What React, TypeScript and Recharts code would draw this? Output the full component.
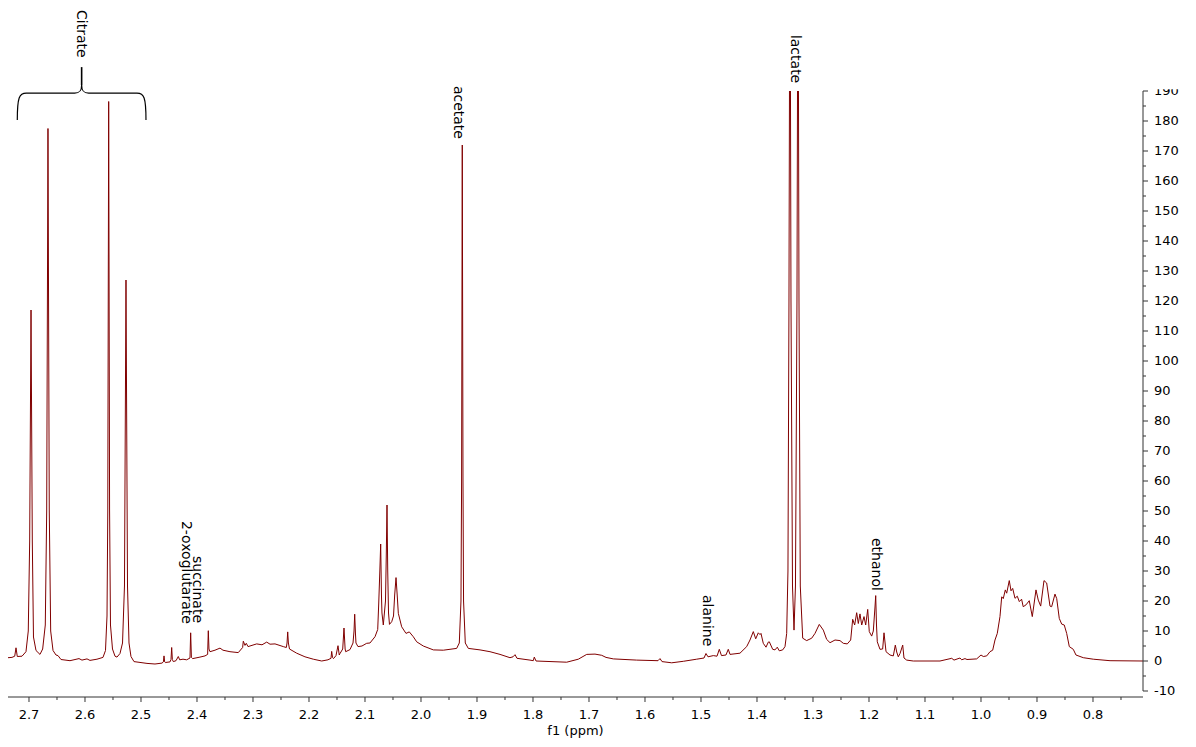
import React from "react";
import { LineChart, Line, XAxis, YAxis, ReferenceDot, ReferenceArea } from "recharts";

const FONT = "'DejaVu Sans', Verdana, sans-serif";
const RED = "#800000";
const AXIS = "#333";

// [ppm, intensity], high ppm -> low ppm
const SEG_CITRATE: [number, number][] = [
  [2.7375, 1.1], [2.7304, 1.2], [2.7255, 1.6], [2.7232, 4.4], [2.7209, 1.5], [2.7125, 1.6],
  [2.7054, 3.1], [2.7013, 10], [2.6988, 40], [2.6964, 117], [2.6941, 40], [2.692, 8],
  [2.6875, 3.5], [2.6804, 2.2], [2.6756, 4], [2.6709, 12], [2.6684, 50], [2.6661, 177.5],
  [2.6638, 50], [2.6613, 10], [2.6571, 3.5], [2.6518, 2], [2.6482, 1.8], [2.6429, 0.5],
  [2.6268, 0.1], [2.6107, 0.8], [2.6054, 0.3], [2.5964, 0.7], [2.5911, 0.2], [2.5786, 0.6],
  [2.5679, 1.2], [2.5634, 3.5], [2.5607, 15], [2.5593, 50], [2.5577, 186.5], [2.5561, 50],
  [2.5545, 12], [2.5509, 4], [2.5464, 1.6], [2.5429, 1.3], [2.5375, 2.5], [2.533, 6],
  [2.5295, 25], [2.5268, 127], [2.5241, 25], [2.5214, 6], [2.5179, 1.5], [2.5125, -0.2],
  [2.4893, -0.8],
];

const SEG_SMALL: [number, number][] = [
  [2.475, -1.0], [2.4625, -0.7], [2.46, -0.3], [2.4589, 1.7], [2.4577, -0.3], [2.4566, -0.5],
  [2.4482, -0.3], [2.4464, 0.5], [2.4452, 4.5], [2.444, 0.5], [2.4423, -0.2], [2.4375, 0.1],
  [2.4334, 1.5], [2.4309, 0.4], [2.425, 0.6], [2.4184, 0.4], [2.4125, 1.0], [2.4113, 9.4],
  [2.41, 1.2], [2.4077, 0.8], [2.3947, 1.3], [2.3857, 1.7], [2.381, 2.2], [2.3798, 10.1],
  [2.3786, 4.0], [2.3768, 3.1], [2.3679, 3.6], [2.3589, 4.3], [2.3536, 3.6], [2.3411, 3.1],
  [2.3263, 2.8], [2.3185, 4.5], [2.3173, 6.6], [2.3143, 5.2], [2.312, 5.9], [2.3089, 4.8],
  [2.2934, 5.7], [2.2839, 5.4], [2.2755, 6.3], [2.2696, 5.6], [2.2607, 5.7], [2.2459, 4.8],
  [2.2405, 4.5], [2.2392, 6], [2.238, 9.7], [2.2368, 6], [2.2348, 4.0], [2.222, 2.6],
  [2.2072, 1.4], [2.1923, 0.6], [2.1773, 0],
];

const SEG_GLX: [number, number][] = [
  [2.1661, 0.4], [2.1607, 0.9], [2.1595, 3.2], [2.158, 1.2], [2.1563, 0.8], [2.1518, 1.8],
  [2.1482, 5.1], [2.146, 2.0], [2.1446, 2.5], [2.1398, 4], [2.1375, 11], [2.1355, 4],
  [2.1345, 3.1], [2.1268, 3.8], [2.1214, 6], [2.1196, 10], [2.1184, 15.6], [2.117, 9],
  [2.1161, 6], [2.1125, 4.8], [2.1054, 5], [2.097, 5.9], [2.0911, 6.0], [2.0821, 8.1],
  [2.0773, 10.5], [2.0755, 19], [2.0735, 30], [2.072, 39], [2.0706, 22], [2.0697, 16],
  [2.0673, 12], [2.0634, 20], [2.062, 35], [2.0607, 52], [2.0594, 30], [2.058, 16],
  [2.0563, 12.2], [2.0523, 13.1], [2.0491, 15], [2.047, 22], [2.0446, 27.8], [2.0425, 22],
  [2.0405, 15.9], [2.0345, 11.4], [2.0268, 9.2], [2.0209, 9.7], [2.0138, 8.1], [2.0077, 6.4],
  [1.9959, 5.0], [1.978, 3.7], [1.9602, 3.6],
];

const SEG_ACETATE: [number, number][] = [
  [1.9363, 4.2], [1.9316, 6], [1.9286, 20], [1.9275, 60], [1.9263, 172], [1.925, 60],
  [1.924, 20], [1.9209, 6], [1.9155, 4.2], [1.8946, 3.7], [1.8768, 3.1], [1.8589, 2.2],
  [1.8411, 1.1], [1.8357, 1.4], [1.8321, 2.1], [1.8286, 0.9], [1.8054, 0.3], [1.7995, 0.1],
  [1.7977, 1.3], [1.7946, 0], [1.7398, -0.4], [1.7191, 0.6], [1.7041, 2.2], [1.6893, 2.3],
  [1.6773, 1.9], [1.6696, 1.2], [1.6566, 0.7], [1.6148, 0.3], [1.5768, 0.1], [1.5732, 0.8],
  [1.5696, -0.2], [1.5523, -0.6], [1.5316, -0.1], [1.5077, 0.6], [1.4946, 1.0], [1.4911, 2.5],
  [1.4875, 1.4], [1.478, 1.8], [1.4714, 1.6], [1.4673, 3.9], [1.4634, 1.8], [1.4554, 2.0],
  [1.4513, 3.9], [1.4482, 2.2],
];

const SEG_LACTATE: [number, number][] = [
  [1.4304, 2.6], [1.4184, 4.8], [1.4125, 7], [1.4066, 9.8], [1.4023, 7.4], [1.3977, 9.4],
  [1.3946, 8.8], [1.3929, 9.2], [1.3888, 5.9], [1.3839, 4.6], [1.3798, 6.3], [1.378, 6.4],
  [1.372, 3.9], [1.3679, 3.7], [1.3638, 4.6], [1.3602, 3.4], [1.3541, 3.7], [1.35, 4.8],
  [1.347, 9.2], [1.3447, 30], [1.3429, 120], [1.3411, 260], [1.3393, 120], [1.3366, 25],
  [1.3339, 10.3], [1.3313, 25], [1.3286, 120], [1.3268, 255], [1.325, 120], [1.3227, 25],
  [1.3184, 7.6], [1.3113, 6.8], [1.3023, 7.6], [1.2964, 9.2], [1.2888, 12.2], [1.2816, 10.3],
  [1.2756, 7.2], [1.2696, 6.1], [1.2607, 7.0], [1.2518, 6.8], [1.2459, 5.9], [1.2388, 5.7],
  [1.2327, 7.0], [1.2291, 13.9], [1.2256, 12], [1.222, 16.1], [1.2191, 12.5], [1.2161, 15.7],
  [1.213, 12], [1.2089, 14.8], [1.2059, 12], [1.2023, 17.2], [1.1995, 9.8], [1.1952, 8.3],
  [1.1923, 10], [1.1893, 18], [1.188, 21.8], [1.1866, 12], [1.1852, 6.4], [1.1804, 3.9],
  [1.1756, 4.0], [1.1732, 9.4], [1.1696, 3.1], [1.1625, 2.0], [1.1566, 1.7], [1.153, 5.3],
  [1.1505, 3.0], [1.1477, 1.4], [1.1446, 2.5], [1.1398, 5.3], [1.1375, 1.0], [1.1327, 0.3],
  [1.1209, 0],
];

const SEG_ALIPHATIC: [number, number][] = [
  [1.0732, 0], [1.0523, 0.9], [1.0482, 0.3], [1.0375, 1.0], [1.0345, 0.4], [1.0286, 0.8],
  [1.025, 0.5], [1.0077, 0.7], [1.0, 2.0], [0.9959, 1.5], [0.9898, 1.7], [0.9839, 3.1],
  [0.9791, 3.6], [0.975, 7], [0.9709, 9.2], [0.9661, 14.8], [0.963, 21.4], [0.9602, 20.8],
  [0.9566, 23.7], [0.9541, 22.6], [0.9495, 26.8], [0.9464, 23.4], [0.9434, 24.2], [0.9393, 20.9],
  [0.9352, 21.6], [0.9316, 19.8], [0.9275, 20.6], [0.9246, 18.1], [0.9197, 18.7], [0.9138, 20.1],
  [0.9084, 14.8], [0.9018, 23.7], [0.8977, 20.3], [0.8934, 18.3], [0.8875, 26.8], [0.8827, 26],
  [0.8768, 18.3], [0.8738, 18.1], [0.8679, 22.3], [0.8648, 20.8], [0.8602, 14.2], [0.8559, 12.3],
  [0.8513, 12.0], [0.847, 9.2], [0.8423, 4.8], [0.8352, 3.9], [0.8304, 2.0], [0.8173, 1.1],
  [0.7995, 0.6], [0.7696, 0.1], [0.7107, 0],
];

const SPECTRUM = [
  ...SEG_CITRATE, ...SEG_SMALL, ...SEG_GLX, ...SEG_ACETATE, ...SEG_LACTATE, ...SEG_ALIPHATIC,
].map(([ppm, v]) => ({ ppm, v }));

const X_DOMAIN = [0.7107, 2.7375];
const X_TICKS = [
  2.7, 2.65, 2.6, 2.55, 2.5, 2.45, 2.4, 2.35, 2.3, 2.25, 2.2, 2.15, 2.1, 2.05, 2.0, 1.95, 1.9,
  1.85, 1.8, 1.75, 1.7, 1.65, 1.6, 1.55, 1.5, 1.45, 1.4, 1.35, 1.3, 1.25, 1.2, 1.15, 1.1, 1.05,
  1.0, 0.95, 0.9, 0.85, 0.8, 0.75,
];
const Y_TICKS = [
  -10, -5, 0, 5, 10, 15, 20, 25, 30, 35, 40, 45, 50, 55, 60, 65, 70, 75, 80, 85, 90, 95, 100,
  105, 110, 115, 120, 125, 130, 135, 140, 145, 150, 155, 160, 165, 170, 175, 180, 185, 190,
];

// peak annotations: label, ppm of the label centre, intensity at the label's top
const LABELS = [
  { text: "acetate", ppm: 1.9322, at: 191.7 },
  { text: "lactate", ppm: 1.3304, at: 208.7 },
  { text: "2-oxoglutarate", ppm: 2.4184, at: 46.7 },
  { text: "succinate", ppm: 2.3982, at: 35 },
  { text: "alanine", ppm: 1.4875, at: 22 },
  { text: "ethanol", ppm: 1.1863, at: 41 },
];
const CITRATE_SPAN = { from: 2.7209, to: 2.4911, low: 180.3, high: 189.3 };

function XTick({ x, y, payload }: any) {
  const v = payload.value;
  const major = Math.round(v * 100) % 10 === 0;
  return (
    <g>
      <line x1={x} x2={x} y1={y} y2={y + (major ? 5 : 3)} stroke={AXIS} />
      {major && (
        <text x={x} y={y + 22} textAnchor="middle" fontSize={13} fontFamily={FONT} fill="#000">
          {v.toFixed(1)}
        </text>
      )}
    </g>
  );
}

// y ticks also draw the axis line piece up to the next tick, so the line stops at -10
function YTick({ x, y, payload }: any) {
  const v = payload.value;
  const major = v % 10 === 0;
  return (
    <g>
      <defs>
        <clipPath id={`yt${v}`}>
          <rect x={x} y={v === 190 ? y - 1.7 : y - 20} width={60} height={40} />
        </clipPath>
      </defs>
      {v < 190 && <line x1={x} x2={x} y1={y} y2={y - 15} stroke={AXIS} />}
      <line x1={x} x2={x + (major ? 5 : 3)} y1={y} y2={y} stroke={AXIS} />
      {major && (
        <text x={x + 11} y={y + 4} fontSize={13} fontFamily={FONT} fill="#000" clipPath={`url(#yt${v})`}>
          {v}
        </text>
      )}
    </g>
  );
}

const vLabel = (text: string) => (p: any) => (
  <text
    x={p.cx}
    y={p.cy}
    dy="0.35em"
    transform={`rotate(90 ${p.cx} ${p.cy})`}
    fontSize={14}
    fontFamily={FONT}
    fill="#000"
  >
    {text}
  </text>
);

function Brace({ x, y, width, height }: any) {
  const cx = x + width / 2;
  const b = y + height;
  const r = x + width;
  const d =
    `M${x},${b} C${x},${y + 4} ${x + 2},${y} ${x + 9},${y} L${cx - 7},${y} ` +
    `C${cx - 2},${y} ${cx},${y - 2} ${cx},${y - 8} C${cx},${y - 2} ${cx + 2},${y} ${cx + 7},${y} ` +
    `L${r - 9},${y} C${r - 2},${y} ${r},${y + 4} ${r},${b}`;
  return (
    <g>
      <path d={d} fill="none" stroke="#000" strokeWidth={1.2} />
      <line x1={cx} x2={cx} y1={y - 8} y2={y - 26} stroke="#000" strokeWidth={1.6} />
      <text
        x={cx}
        y={y - 83}
        dy="0.35em"
        transform={`rotate(90 ${cx} ${y - 83})`}
        fontSize={14}
        fontFamily={FONT}
        fill="#000"
      >
        Citrate
      </text>
    </g>
  );
}

export default function App() {
  return (
    <div style={{ position: "absolute", left: 0, top: 0, width: 1196, height: 747, background: "#fff" }}>
      <LineChart width={1196} height={747} data={SPECTRUM} margin={{ top: 91, right: 0, bottom: 0, left: 8 }}>
        <XAxis
          dataKey="ppm"
          type="number"
          domain={X_DOMAIN}
          reversed
          allowDataOverflow
          ticks={X_TICKS}
          interval={0}
          tickSize={0}
          tickMargin={0}
          tickLine={false}
          tick={<XTick />}
          height={50}
          stroke={AXIS}
          label={{
            content: ({ viewBox }: any) => (
              <text
                x={viewBox.x + viewBox.width / 2}
                y={viewBox.y + 38}
                textAnchor="middle"
                fontSize={13}
                fontFamily={FONT}
                fill="#000"
              >
                f1 (ppm)
              </text>
            ),
          }}
        />
        <YAxis
          orientation="right"
          type="number"
          domain={[-12, 190]}
          allowDataOverflow
          ticks={Y_TICKS}
          interval={0}
          tickSize={0}
          tickMargin={0}
          tickLine={false}
          axisLine={false}
          tick={<YTick />}
          width={53}
        />
        <Line
          type="linear"
          dataKey="v"
          stroke={RED}
          strokeWidth={1}
          dot={false}
          activeDot={false}
          isAnimationActive={false}
        />
        <ReferenceArea
          x1={CITRATE_SPAN.from}
          x2={CITRATE_SPAN.to}
          y1={CITRATE_SPAN.low}
          y2={CITRATE_SPAN.high}
          ifOverflow="visible"
          shape={<Brace />}
        />
        {LABELS.map((l) => (
          <ReferenceDot key={l.text} x={l.ppm} y={l.at} r={1} ifOverflow="visible" shape={vLabel(l.text)} />
        ))}
      </LineChart>
    </div>
  );
}
